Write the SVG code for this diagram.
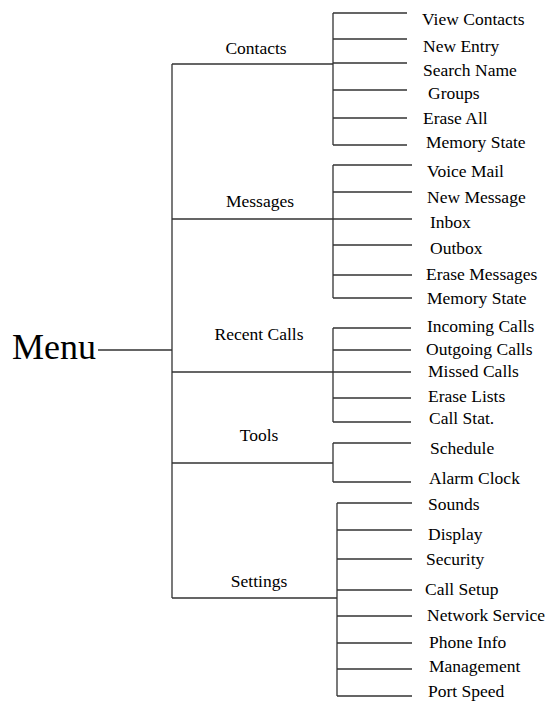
<svg xmlns="http://www.w3.org/2000/svg" width="554" height="704" viewBox="0 0 554 704" font-family="Liberation Serif, Times New Roman, serif">
<style>
text{font-family:"Liberation Serif","Times New Roman",serif;font-size:17.5px;fill:#000}
.lbl{text-anchor:middle}
.menu{font-size:36px}
#connectors path{fill:none;stroke:#333;stroke-width:1.3}
</style>
<rect width="554" height="704" fill="#fff"/>
<g id="connectors">
<path d="M98 350H172M172 64V598"/>
<path d="M172 64H333M333 13V145M333 13H407M333 39H407M333 63H407M333 90H407M333 118H407M333 145H407"/>
<path d="M172 219H333M333 165V298M333 165H412M333 192H412M333 219H412M333 245H412M333 275H412M333 298H412"/>
<path d="M172 372H333M333 328V422M333 328H411M333 350H411M333 372H411M333 398H411M333 422H411"/>
<path d="M172 463H333M333 443V482M333 443H411M333 482H411"/>
<path d="M172 598H337M337 503V696M337 503H412M337 530H412M337 559H412M337 590H412M337 616H412M337 643H412M337 669H412M337 696H412"/>
</g>
<g id="menu"><text class="menu" x="12" y="359">Menu</text></g>
<g id="contacts"><text class="lbl" x="256" y="54">Contacts</text></g>
<g id="contacts-items">
<text x="422" y="25">View Contacts</text>
<text x="423" y="52">New Entry</text>
<text x="423" y="76">Search Name</text>
<text x="428" y="99">Groups</text>
<text x="423" y="124">Erase All</text>
<text x="426" y="148">Memory State</text>
</g>
<g id="messages"><text class="lbl" x="260" y="207">Messages</text></g>
<g id="messages-items">
<text x="427" y="177">Voice Mail</text>
<text x="427" y="203">New Message</text>
<text x="430" y="228">Inbox</text>
<text x="430" y="254">Outbox</text>
<text x="426" y="280">Erase Messages</text>
<text x="427" y="304">Memory State</text>
</g>
<g id="recent-calls"><text class="lbl" x="259" y="340">Recent Calls</text></g>
<g id="recent-items">
<text x="427" y="332">Incoming Calls</text>
<text x="426" y="355">Outgoing Calls</text>
<text x="428" y="377">Missed Calls</text>
<text x="428" y="402">Erase Lists</text>
<text x="429" y="424">Call Stat.</text>
</g>
<g id="tools"><text class="lbl" x="259" y="441">Tools</text></g>
<g id="tools-items">
<text x="430" y="454">Schedule</text>
<text x="429" y="484">Alarm Clock</text>
</g>
<g id="settings"><text class="lbl" x="259" y="587">Settings</text></g>
<g id="settings-items">
<text x="428" y="510">Sounds</text>
<text x="428" y="540">Display</text>
<text x="426" y="565">Security</text>
<text x="425" y="595">Call Setup</text>
<text x="427" y="621">Network Service</text>
<text x="429" y="648">Phone Info</text>
<text x="429" y="672">Management</text>
<text x="428" y="697">Port Speed</text>
</g>
</svg>
